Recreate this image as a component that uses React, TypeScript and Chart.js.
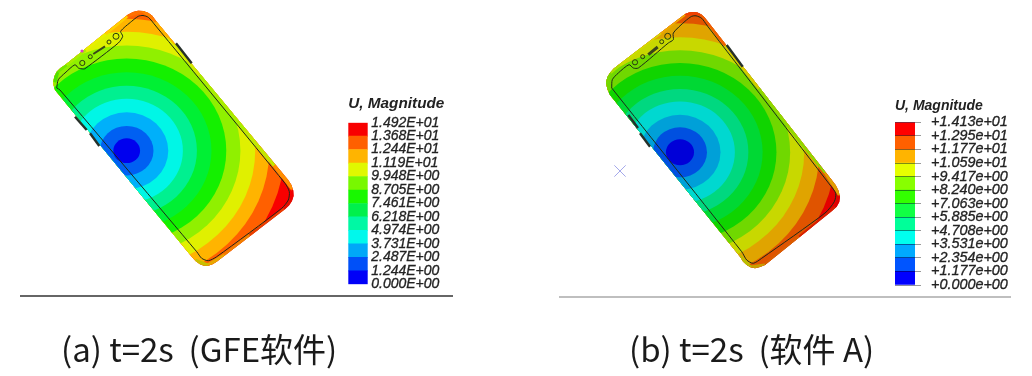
import React, { useEffect, useRef } from "react";
import { Chart, registerables } from "chart.js";

Chart.register(...registerables);

type P = { x: number; y: number };
const pts = (a: number[][]): P[] => a.map(([x, y]) => ({ x, y }));

// ---- contour bands, innermost first
const ringRadiiA = [12.4, 24.8, 38.5, 52, 65, 78.5, 92.2, 105.3, 119, 132, 146, 320];
const ringRadiiB = [13, 25, 37.5, 50.8, 63.3, 76.5, 89.3, 102, 115, 129, 144, 320];
const ringColorsA = ["#0000ee", "#0060f2", "#00b0fa", "#00f6e6", "#00f090", "#00f034", "#14f000", "#90f000", "#e0f000", "#ffb400", "#ff6000", "#f80000"];
const ringColorsB = ["#0000d8", "#0050e0", "#00a0d8", "#00d8d0", "#00d880", "#00d834", "#10d400", "#70d800", "#c8d800", "#e0a400", "#e05400", "#e40000"];
const centerA = [126.7, 150.7];
const centerB = [680, 152.3];
const ringStretch = 1.08;

// ---- phone outlines
const outerA = [[127.3, 15], [133, 12], [138, 10.8], [143.3, 11], [148, 12.8], [152, 15.5], [156.7, 21.7], [288.3, 180], [291.5, 185], [293.3, 190.7], [293.6, 196], [292, 201], [289, 205.5], [285, 209.3], [216.7, 261.7], [212.5, 264.2], [208.3, 265.7], [204, 265.8], [200, 264.3], [195.5, 261], [191.7, 256.7], [55, 90], [53.8, 86], [53.3, 81.7], [54.3, 76.5], [56.7, 71.7], [60.5, 68], [65, 65]];
const innerA = [[56.7, 88], [58.3, 79.7], [65, 73], [75, 64.7], [78.3, 68], [83.3, 69], [85, 68.7], [118.3, 43], [122.7, 36.3], [120.7, 31.3], [131.7, 21.3], [138.3, 16.3], [143, 15.5], [148.3, 17.3], [155, 25], [285, 183.3], [289.3, 191.7], [288.3, 200], [281.7, 208.3], [216.7, 256.7], [208.3, 260.7], [201.7, 258.3], [196.7, 251.7], [60, 90], [56.7, 88]];
const outerB = [[685, 14], [689, 12.5], [693.3, 12], [697.5, 12.6], [701, 14.3], [704, 16.8], [706.7, 20], [835.7, 185], [838.5, 190.5], [840, 196.7], [839.3, 202], [836.7, 206.7], [832, 211], [765, 265], [760, 267], [755, 268.3], [750.5, 267.3], [746.7, 265], [743, 261.5], [740, 256.7], [610, 95], [607.5, 89.5], [606, 83.3], [607.2, 77.5], [610, 72.7], [613.8, 68.5], [618.3, 65]];
const innerB = [[611.7, 88], [612.3, 79.7], [618.3, 73], [629, 64.7], [633.3, 68], [638.3, 68], [668.3, 43], [673.3, 39.7], [673.3, 33], [685, 21.3], [691.7, 16.3], [696, 15.8], [701.7, 18.3], [706.7, 25], [830, 185], [835.7, 193.3], [834.3, 201.7], [825, 213], [761.7, 258.3], [753.3, 263.3], [746.7, 260], [741.7, 251.7], [613.3, 90], [611.7, 88]];

// ---- rim (edge of the body) with its own colours
const rimA = [[54, 82], [57, 71], [66, 64], [85, 49], [105, 33], [127, 15], [143, 10], [157, 21], [176, 43], [200, 75], [245, 130], [275, 165], [294, 190], [292, 201], [285, 210], [250, 236], [225, 256], [208, 266], [195, 261]];
const rimColorsA = ["#50e000", "#70e800", "#a8ee00", "#e8f000", "#ffd000", "#ff7000", "#ff8000", "#ffb400", "#d0e800", "#a8ee00", "#c0e800", "#ff9000", "#f00000", "#e01000", "#e84000", "#f08000", "#e8a800", "#c8c000"];
const rimB = [[606, 83], [610, 72], [619, 64], [640, 47], [660, 32], [685, 13], [702, 13], [726, 45], [760, 88], [800, 140], [826, 172], [841, 196], [836, 208], [800, 238], [765, 266], [750, 268], [738, 256]];
const rimColorsB = ["#78d800", "#a8e000", "#c8e000", "#d8d800", "#f0a800", "#f04000", "#f06000", "#d8c800", "#90d800", "#90d800", "#e0a000", "#e00000", "#d82000", "#d86000", "#c8a000", "#b8c000"];

// ---- openings and side buttons
const holesA = [[82.3, 63], [90.3, 56.7], [109, 42], [116, 36.3]];
const holeSizesA = [2.6, 2, 2, 3];
const speakerA = [[93.3, 54], [105, 46.3]];
const buttonsA = [[[176, 43.3], [191.7, 63.3]], [[75, 116.7], [86.7, 130]], [[90, 133.3], [99.3, 146]]];
const holesB = [[635, 62.3], [642.7, 56.7], [661.7, 41.7], [667.7, 36.3]];
const holeSizesB = [2.6, 2, 2, 3];
const speakerB = [[648.3, 54.7], [657.7, 47]];
const buttonsB = [[[726.7, 45], [742.7, 66.7]], [[628.3, 115], [638, 128]], [[640, 133.3], [650, 146.7]]];
const pinkDot = [[82, 51]];
const crossMark = [[620, 171]];

// ---- ground lines
const groundA = [[20, 296], [453, 296]];
const groundB = [[559, 297], [1011, 297]];

// ---- colour bars
const legendTitle = "U, Magnitude";
const levelsA = [0, 1.244, 2.487, 3.731, 4.974, 6.218, 7.461, 8.705, 9.948, 11.19, 12.44, 13.68, 14.92];
const levelLabelsA = ["0.000E+00", "1.244E+00", "2.487E+00", "3.731E+00", "4.974E+00", "6.218E+00", "7.461E+00", "8.705E+00", "9.948E+00", "1.119E+01", "1.244E+01", "1.368E+01", "1.492E+01"];
const legendColorsA = ["#0000f8", "#0050f8", "#00a8f8", "#00f8ec", "#00f8a4", "#00f04c", "#18f800", "#78f800", "#e0f800", "#ffb400", "#ff6000", "#f80000"];
const levelsB = [0, 1.177, 2.354, 3.531, 4.708, 5.885, 7.063, 8.24, 9.417, 10.59, 11.77, 12.95, 14.13];
const levelLabelsB = ["+0.000e+00", "+1.177e+00", "+2.354e+00", "+3.531e+00", "+4.708e+00", "+5.885e+00", "+7.063e+00", "+8.240e+00", "+9.417e+00", "+1.059e+01", "+1.177e+01", "+1.295e+01", "+1.413e+01"];
const legendColorsB = ["#0000ff", "#0055ff", "#00aaff", "#00ffee", "#00ff99", "#11ff44", "#33ff00", "#88ff00", "#e6ff00", "#ffb400", "#ff6000", "#ff0000"];

const captionA = "(a) t=2s  (GFE软件)";
const captionB = "(b) t=2s  (软件 A)";

const clipPlugin = {
  id: "phoneClip",
  beforeDatasetDraw(chart: any, args: any) {
    const ds = chart.data.datasets[args.index];
    if (!ds.phone) return;
    const { ctx, scales } = chart;
    ctx.save();
    ctx.beginPath();
    ds.phone.forEach(([x, y]: number[], i: number) => {
      const px = scales.x.getPixelForValue(x);
      const py = scales.y.getPixelForValue(y);
      if (i) ctx.lineTo(px, py);
      else ctx.moveTo(px, py);
    });
    ctx.closePath();
    ctx.clip();
    if (ds.center) {
      const cx = scales.x.getPixelForValue(ds.center[0]);
      ctx.translate(cx, 0);
      ctx.scale(ringStretch, 1);
      ctx.translate(-cx, 0);
    }
  },
  afterDatasetDraw(chart: any, args: any) {
    if (chart.data.datasets[args.index].phone) chart.ctx.restore();
  },
};

const line = (data: number[][], color: string, width: number, extra: any = {}) => ({
  type: "line",
  data: pts(data),
  borderColor: color,
  borderWidth: width,
  pointRadius: 0,
  fill: false,
  tension: 0,
  ...extra,
});

const panelSets = (c: number[], radii: number[], colors: string[], outer: number[][], inner: number[][], rim: number[][], rimColors: string[], holes: number[][], sizes: number[], speaker: number[][], buttons: number[][][], speakerW: number, ground: number[][], groundColor: string, groundW: number) => [
  line(ground, groundColor, groundW),
  {
    type: "scatter",
    data: pts(holes),
    pointRadius: sizes,
    pointBackgroundColor: "rgba(0,0,0,0)",
    pointBorderColor: "#2a3a10",
    pointBorderWidth: 1,
  },
  line(speaker, "#39461a", speakerW),
  line(inner, "#1c2a18", 1, { tension: 0.25 }),
  ...buttons.map((b) => line(b, "#26302a", 2.4)),
  line(rim, "#888", 5, {
    phone: outer,
    segment: { borderColor: (s: any) => rimColors[s.p0DataIndex] },
  }),
  {
    type: "bubble",
    phone: outer,
    center: c,
    data: radii.map((r) => ({ x: c[0], y: c[1], r })).reverse(),
    backgroundColor: [...colors].reverse(),
    borderWidth: 0,
  },
];

function Figure() {
  const ref = useRef<HTMLCanvasElement>(null);
  useEffect(() => {
    const chart = new Chart(ref.current as any, {
      type: "scatter",
      data: {
        datasets: [
          {
            type: "scatter",
            data: pts(pinkDot),
            pointRadius: 1.6,
            pointBackgroundColor: "#e040c8",
            pointBorderWidth: 0,
          },
          {
            type: "scatter",
            data: pts(crossMark),
            pointStyle: "crossRot",
            pointRadius: 8,
            pointBorderColor: "#a4a8ea",
            pointBorderWidth: 1,
          },
          ...panelSets(centerA, ringRadiiA, ringColorsA, outerA, innerA, rimA, rimColorsA, holesA, holeSizesA, speakerA, buttonsA, 2, groundA, "#666666", 2),
          ...panelSets(centerB, ringRadiiB, ringColorsB, outerB, innerB, rimB, rimColorsB, holesB, holeSizesB, speakerB, buttonsB, 3, groundB, "#aaaaaa", 1.4),
        ] as any,
      },
      options: {
        responsive: false,
        animation: false,
        events: [],
        layout: { padding: 0, autoPadding: false },
        plugins: { legend: { display: false }, tooltip: { enabled: false } },
        scales: {
          x: { type: "linear", min: 0, max: 1032, display: false },
          y: { type: "linear", min: 0, max: 376, reverse: true, display: false },
        },
      } as any,
      plugins: [clipPlugin],
    });
    return () => chart.destroy();
  }, []);
  return <canvas ref={ref} width={1032} height={376} style={{ position: "absolute", left: 0, top: 0, filter: "blur(0.5px)" }} />;
}

function ColorBar(props: { left: number; top: number; width: number; height: number; padLeft: number; padTop: number; padBottom: number; barWidth: number; levels: number[]; labels: string[]; colors: string[]; titleSize: number; titlePad: number; tickPad: number; tickSize: number; marks: boolean }) {
  const ref = useRef<HTMLCanvasElement>(null);
  useEffect(() => {
    const { levels, labels, colors } = props;
    const chart = new Chart(ref.current as any, {
      type: "bar",
      data: {
        labels: ["U"],
        datasets: colors.map((c, i) => ({
          data: [[levels[i], levels[i + 1]]],
          backgroundColor: c,
          borderWidth: 0,
          barPercentage: 1,
          categoryPercentage: 1,
          grouped: false,
        })) as any,
      },
      options: {
        responsive: false,
        animation: false,
        events: [],
        layout: { padding: { left: props.padLeft, top: props.padTop, bottom: props.padBottom, right: 0 } },
        plugins: {
          legend: { display: false },
          tooltip: { enabled: false },
          title: {
            display: true,
            text: legendTitle,
            align: "start",
            color: "#222222",
            font: { family: "Liberation Sans", style: "italic", weight: "bold", size: props.titleSize },
            padding: { top: 0, bottom: props.titlePad },
          },
        },
        scales: {
          x: { display: false },
          y: {
            position: "right",
            min: 0,
            max: levels[levels.length - 1],
            afterBuildTicks: (s: any) => {
              s.ticks = levels.map((value) => ({ value }));
            },
            afterFit: (s: any) => {
              s.width = props.width - props.padLeft - props.barWidth;
              s.paddingTop = 0;
              s.paddingBottom = 0;
            },
            border: { display: false },
            grid: props.marks
              ? { display: true, color: "rgba(0,0,40,0.45)", tickColor: "#9a9a9a", tickLength: 6, z: 1 }
              : { display: false, drawTicks: false },
            ticks: {
              autoSkip: false,
              maxRotation: 0,
              padding: props.tickPad,
              color: "#222222",
              textStrokeColor: "#222222",
              textStrokeWidth: 0.3,
              font: { family: "Liberation Sans", style: "italic", size: props.tickSize },
              callback: (v: any) => labels[levels.indexOf(v)],
            },
          },
        },
      } as any,
    });
    return () => chart.destroy();
  }, []);
  return <canvas ref={ref} width={props.width} height={props.height} style={{ position: "absolute", left: props.left, top: props.top, filter: "blur(0.4px)" }} />;
}

const captionStyle = (left: number): React.CSSProperties => ({
  position: "absolute",
  left,
  top: 328,
  fontFamily: "'Noto Sans CJK SC', 'Noto Sans', sans-serif",
  fontSize: 33,
  lineHeight: "40px",
  color: "#1a1a1a",
  whiteSpace: "pre",
});

export default function App() {
  return (
    <div style={{ position: "absolute", left: 0, top: 0, width: 1032, height: 376, background: "#fff", overflow: "hidden" }}>
      <Figure />
      <ColorBar left={335} top={90} width={125} height={205} padLeft={13.3} padTop={5} padBottom={10.7} barWidth={19.4} levels={levelsA} labels={levelLabelsA} colors={legendColorsA} titleSize={15.3} titlePad={9.3} tickPad={3.5} tickSize={14} marks={false} />
      <ColorBar left={881} top={90} width={140} height={205} padLeft={14} padTop={8} padBottom={10} barWidth={20} levels={levelsB} labels={levelLabelsB} colors={legendColorsB} titleSize={14} titlePad={7.5} tickPad={10} tickSize={14.4} marks={true} />
      <div style={captionStyle(61)}>{captionA}</div>
      <div style={captionStyle(629)}>{captionB}</div>
    </div>
  );
}
